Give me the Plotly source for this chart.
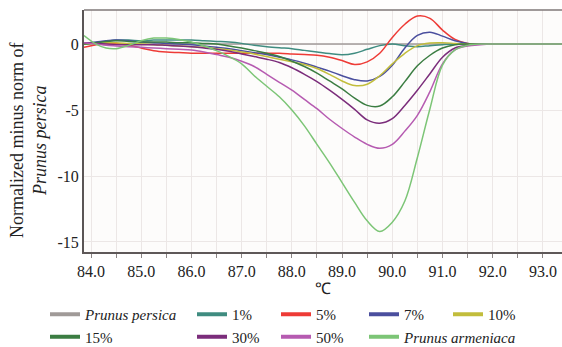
import plotly.graph_objects as go

# ---------------- data ----------------
temps = [83.86, 84.1, 84.3, 84.5, 84.75, 85.0, 85.25, 85.5, 85.75, 86.0, 86.25, 86.5,
         86.75, 87.0, 87.25, 87.5, 87.75, 88.0, 88.25, 88.5, 88.75, 89.0, 89.25, 89.5,
         89.75, 90.0, 90.25, 90.5, 90.75, 91.0, 91.25, 91.5, 91.75, 92.0, 92.4, 93.4]

persica_x = [83.86, 93.4]
persica = [0.0, 0.0]

pct1 = [0.0, 0.1, 0.2, 0.3, 0.3, 0.25, 0.3, 0.3, 0.3, 0.3, 0.25, 0.2,
        0.15, 0.05, -0.1, -0.2, -0.28, -0.35, -0.48, -0.6, -0.72, -0.82, -0.7, -0.4,
        -0.12, 0.0, -0.12, -0.2, -0.12, -0.05, 0.0, 0.0, 0.0, 0.0, 0.0, 0.0]

pct5 = [-0.25, -0.05, 0.05, 0.05, -0.1, -0.3, -0.5, -0.6, -0.65, -0.7, -0.7, -0.7,
        -0.7, -0.7, -0.7, -0.7, -0.7, -0.75, -0.8, -0.85, -1.0, -1.25, -1.55, -1.35,
        -0.7, 0.5, 1.5, 2.12, 1.95, 1.06, 0.35, 0.05, 0.0, 0.0, 0.0]

pct7 = [0.05, 0.15, 0.25, 0.3, 0.25, 0.15, 0.1, 0.05, 0.0, -0.05, -0.15, -0.25,
        -0.35, -0.5, -0.65, -0.8, -1.0, -1.2, -1.45, -1.75, -2.05, -2.4, -2.7, -2.8,
        -2.45, -1.6, -0.3, 0.65, 0.9, 0.6, 0.25, 0.05, 0.0, 0.0, 0.0, 0.0]

pct10 = [0.0, 0.05, 0.1, 0.1, 0.05, 0.0, -0.05, -0.1, -0.15, -0.2, -0.25, -0.35,
         -0.45, -0.6, -0.75, -0.95, -1.15, -1.35, -1.55, -1.85, -2.3, -2.8, -3.15, -3.05,
         -2.4, -1.5, -0.7, -0.12, 0.08, 0.1, 0.05, 0.0, 0.0, 0.0, 0.0, 0.0]

pct15 = [0.0, 0.1, 0.2, 0.25, 0.2, 0.15, 0.15, 0.15, 0.1, 0.1, 0.05, 0.0,
         -0.15, -0.3, -0.5, -0.7, -0.95, -1.3, -1.7, -2.2, -2.8, -3.4, -4.1, -4.65,
         -4.7, -4.0, -2.85, -1.65, -0.85, -0.3, -0.05, 0.0, 0.0, 0.0, 0.0, 0.0]

pct30 = [0.1, 0.05, 0.0, -0.05, -0.05, -0.05, -0.05, -0.1, -0.15, -0.2, -0.3, -0.4,
         -0.55, -0.75, -0.95, -1.15, -1.4, -1.8, -2.3, -2.85, -3.5, -4.2, -4.95, -5.75,
         -6.0, -5.65, -4.65, -3.5, -2.25, -1.0, -0.3, -0.1, 0.0, 0.0, 0.0, 0.0]

pct50 = [0.1, 0.0, -0.1, -0.15, -0.2, -0.25, -0.3, -0.35, -0.4, -0.45, -0.6, -0.8,
         -1.0, -1.3, -1.7, -2.3, -2.9, -3.5, -4.2, -4.9, -5.7, -6.4, -7.05, -7.6,
         -7.9, -7.6, -6.6, -5.4, -3.6, -1.5, -0.45, -0.15, -0.05, 0.0, 0.0, 0.0]

armeniaca = [0.65, 0.0, -0.3, -0.35, -0.1, 0.25, 0.45, 0.45, 0.35, 0.15, -0.15, -0.5,
             -0.95, -1.5, -2.4, -3.2, -4.0, -5.0, -6.2, -7.6, -9.0, -10.5, -12.0, -13.4,
             -14.2, -13.5, -11.9, -8.6, -4.9, -1.6, -0.45, -0.1, 0.0, 0.0, 0.0, 0.0]

x_tickvals = [84, 85, 86, 87, 88, 89, 90, 91, 92, 93]
x_ticktext = ["84.0", "85.0", "86.0", "87.0", "88.0", "89.0", "90.0", "91.0", "92.0", "93.0"]
y_tickvals = [0, -5, -10, -15]
y_ticktext = ["0", "-5", "-10", "-15"]

names = ["<i>Prunus persica</i>", "1%", "5%", "7%", "10%", "15%", "30%", "50%",
         "<i>Prunus armeniaca</i>"]
colors = ["#a09a98", "#3f8c80", "#ee3b36", "#4b4f9e", "#c2bd3c", "#3b7d42",
          "#7b2d7b", "#b65bb1", "#7cc576"]

series = [
    (persica_x, persica),
    (temps, pct1),
    (temps[:len(pct5)], pct5),
    (temps, pct7),
    (temps, pct10),
    (temps, pct15),
    (temps, pct30),
    (temps, pct50),
    (temps, armeniaca),
]
# legend column of each series (column layout of the original legend)
legend_ids = ["legend", "legend2", "legend3", "legend4", "legend5",
              "legend", "legend2", "legend3", "legend4"]

FONT = "Liberation Serif, Times New Roman, serif"

fig = go.Figure()
for (xs, ys), c in zip(series, colors):
    fig.add_trace(go.Scatter(x=xs, y=ys, mode="lines", line=dict(color=c, width=1.5, shape="spline"),
                             showlegend=False, hoverinfo="skip"))

# legend-only entries (thicker symbols)
order = [0, 5, 1, 6, 2, 7, 3, 8, 4]
for i in order:
    fig.add_trace(go.Scatter(x=[None], y=[None], mode="lines", name=names[i],
                             line=dict(color=colors[i], width=4), legend=legend_ids[i]))

W, H = 562, 347
L, R, T, B = 84, 0, 10, 95
pw, ph = W - L - R, H - T - B

def px_x(p):
    return (p - L) / pw

def px_y(p):
    return (H - B - p) / ph

leg_common = dict(orientation="v", xanchor="left", yanchor="top", bgcolor="rgba(0,0,0,0)",
                  font=dict(family=FONT, size=15, color="#222"), tracegroupgap=0)
text_starts = [85, 232, 316, 404, 488]
layout_legends = {}
for k, ts in zip(["legend", "legend2", "legend3", "legend4", "legend5"], text_starts):
    layout_legends[k] = dict(leg_common, x=px_x(ts - 40), y=px_y(298))

fig.update_layout(
    width=W, height=H,
    margin=dict(l=L, r=R, t=T, b=B, autoexpand=False),
    paper_bgcolor="white",
    plot_bgcolor="#fdfcfb",
    font=dict(family=FONT, size=16, color="#222"),
    **layout_legends,
)

fig.update_xaxes(
    range=[83.86, 93.38],
    tickvals=x_tickvals, ticktext=x_ticktext,
    ticks="outside", ticklen=4, tickcolor="#8a8484",
    showgrid=True, gridcolor="#ece7e6", gridwidth=1,
    minor=dict(dtick=0.5, tick0=84, ticks="outside", ticklen=4, tickcolor="#8a8484",
               showgrid=True, gridcolor="#ece7e6"),
    showline=True, linecolor="#5e5858", linewidth=2,
    zeroline=False, automargin=False,
    tickfont=dict(family=FONT, size=16, color="#222"),
    title=dict(text="℃", font=dict(family=FONT, size=16, color="#222"), standoff=4),
)
fig.update_yaxes(
    range=[-15.76, 2.58],
    tickvals=y_tickvals, ticktext=y_ticktext,
    ticks="", showgrid=True, gridcolor="#ece7e6", gridwidth=1,
    showline=True, linecolor="#5a5555", linewidth=2,
    zeroline=False, automargin=False,
    tickfont=dict(family=FONT, size=16, color="#222"),
)

# top frame line (lighter than the axes)
fig.add_shape(type="line", xref="paper", yref="paper", x0=0, x1=1, y0=1, y1=1,
              line=dict(color="#7f7979", width=1.5))

fig.add_annotation(
    text="Normalized minus norm of<br><i>Prunus persica</i>",
    xref="paper", yref="paper", x=px_x(28), y=px_y(141),
    xanchor="center", yanchor="middle", textangle=-90, showarrow=False,
    font=dict(family=FONT, size=18, color="#222"),
)

fig.write_html("out.html", config={"displayModeBar": False},
               post_script="document.body.style.margin='0';")
